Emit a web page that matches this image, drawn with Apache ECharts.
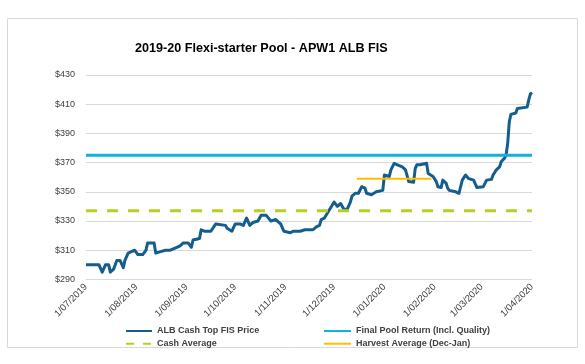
<!DOCTYPE html>
<html>
<head>
<meta charset="utf-8">
<script src="https://cdn.jsdelivr.net/npm/echarts@6/dist/echarts.min.js"></script>
<style>html,body{margin:0;padding:0;background:#fff;}#c{width:585px;height:364px;}</style>
</head>
<body>
<div id="c"></div>
<script>
const tickLabels = ['1/07/2019','1/08/2019','1/09/2019','1/10/2019','1/11/2019','1/12/2019','1/01/2020','1/02/2020','1/03/2020','1/04/2020'];
const priceDates = ['2019-07-01','2019-07-09','2019-07-11','2019-07-13','2019-07-15','2019-07-16','2019-07-18','2019-07-20','2019-07-22','2019-07-24','2019-07-25','2019-07-27','2019-07-29','2019-07-31',
'2019-08-02','2019-08-05','2019-08-07','2019-08-08','2019-08-12','2019-08-13','2019-08-16','2019-08-19','2019-08-20','2019-08-22','2019-08-26','2019-08-28','2019-08-30',
'2019-09-02','2019-09-04','2019-09-05','2019-09-09','2019-09-10','2019-09-12','2019-09-16','2019-09-19','2019-09-25','2019-09-26','2019-09-29',
'2019-10-01','2019-10-04','2019-10-06','2019-10-08','2019-10-10','2019-10-12','2019-10-15','2019-10-17','2019-10-20','2019-10-23','2019-10-26','2019-10-29','2019-10-31',
'2019-11-04','2019-11-05','2019-11-06','2019-11-10','2019-11-13','2019-11-18','2019-11-20','2019-11-22','2019-11-23','2019-11-25','2019-11-28',
'2019-12-01','2019-12-03','2019-12-05','2019-12-07','2019-12-09','2019-12-11','2019-12-12','2019-12-14','2019-12-16','2019-12-18','2019-12-20','2019-12-21','2019-12-24','2019-12-27','2019-12-31',
'2020-01-01','2020-01-04','2020-01-05','2020-01-07','2020-01-09','2020-01-10','2020-01-12','2020-01-14','2020-01-15','2020-01-16','2020-01-19','2020-01-20','2020-01-21','2020-01-23','2020-01-27','2020-01-28','2020-01-29','2020-01-31',
'2020-02-02','2020-02-03','2020-02-05','2020-02-06','2020-02-08','2020-02-09','2020-02-10','2020-02-14','2020-02-16','2020-02-18','2020-02-20','2020-02-22','2020-02-25','2020-02-27',
'2020-03-02','2020-03-04','2020-03-07','2020-03-08','2020-03-10','2020-03-12','2020-03-13','2020-03-15','2020-03-16','2020-03-17','2020-03-18','2020-03-19','2020-03-20','2020-03-22','2020-03-23','2020-03-24','2020-03-29','2020-03-30','2020-03-31','2020-04-01'];
const priceValues = [300,300,295,300,300,295,297,303,303,298,303,308,309,310,
307,307,310,315,315,308,309,310,311,310,312,313,315,
315,312,317,318,324,323,323,328,327,325,323,
328,328,327,332,327,329,330,334,334,330,331,328,323,
322,321,323,323,324,324,326,327,331,332,337.5,
343,340,342,338,338,343,347,349,349,353.5,352.5,349,348,350,351,
361.5,360.5,365,369.5,368.5,369.5,367,365,364,357,356.5,366,368.5,368.5,369.5,362.5,361.5,360.5,
357,353.5,353,358,356,352.5,351,350,349,358,361.5,359,358,353,
353.5,358,358.5,361.5,365,367,370.5,373,375,383,398,403,404,404,407,408,408,413,417,418];
const axisStart = '2019-07-01';
const axisEnd = '2020-04-01';
const finalPoolReturn = 375;
const cashAverage = 337;
const harvestAverage = 359;
const harvestStart = '2019-12-15';
const harvestEnd = '2020-01-30';
const seriesNames = ['ALB Cash Top FIS Price','Final Pool Return (Incl. Quality)','Cash Average','Harvest Average (Dec-Jan)'];

function ts(s){ const p = s.split('-').map(Number); return new Date(p[0], p[1]-1, p[2]).getTime(); }
function tsLabel(s){ const p = s.split('/').map(Number); return new Date(p[2], p[1]-1, p[0]).getTime(); }
const tickValues = tickLabels.map(tsLabel);
function fmt(v){ let best = 0; for (let i = 1; i < tickValues.length; i++) { if (Math.abs(tickValues[i]-v) < Math.abs(tickValues[best]-v)) best = i; } return tickLabels[best]; }

const chart = echarts.init(document.getElementById('c'), null, {renderer:'canvas'});
const txt = '#404040';
const legendText = {fontFamily:'Liberation Sans', fontSize:9, fontWeight:'bold', color:txt, lineHeight:10};
chart.setOption({
  animation: false,
  backgroundColor: '#fff',
  graphic: [{type:'rect', shape:{x:7.5,y:18.5,width:570,height:329}, style:{fill:'none', stroke:'#d9d9d9', lineWidth:1}, silent:true, z:-1}],
  title: {text:'2019-20 Flexi-starter Pool - APW1 ALB FIS', left:130, top:37, textStyle:{fontFamily:'Liberation Sans', fontSize:12.6, fontWeight:'bold', color:'#000'}},
  grid: {left:86, right:53, top:75, bottom:84.6, containLabel:false},
  xAxis: {type:'value', min:ts(axisStart), max:ts(axisEnd), scale:true,
    axisLine:{show:false}, axisTick:{show:false}, splitLine:{show:false},
    axisLabel:{customValues: tickValues, rotate:45, margin:6, formatter: fmt, fontFamily:'Liberation Sans', fontSize:9.5, color:txt, hideOverlap:false, showMinLabel:true, showMaxLabel:true}},
  yAxis: {type:'value', min:290, max:430, interval:20,
    axisLine:{show:false}, axisTick:{show:false},
    splitLine:{lineStyle:{color:'#d9d9d9', width:1}},
    axisLabel:{formatter:'${value}', margin:11, fontFamily:'Liberation Sans', fontSize:9, color:txt}},
  legend: [
    {data:[seriesNames[0], {name:seriesNames[2], lineStyle:{type:[8,9]}}], orient:'vertical', left:120, top:321, itemWidth:26, itemHeight:10, itemGap:2.7,
     itemStyle:{opacity:0}, textStyle:legendText},
    {data:[seriesNames[1], seriesNames[3]], orient:'vertical', left:318, top:321, itemWidth:27, itemHeight:10, itemGap:2.7,
     itemStyle:{opacity:0}, textStyle:legendText}
  ],
  series: [
    {name:seriesNames[0], type:'line', symbol:'none', data: priceDates.map((d,i)=>[ts(d), priceValues[i]]),
     lineStyle:{color:'#145d8d', width:3, join:'round'}, itemStyle:{color:'#145d8d'}},
    {name:seriesNames[1], type:'line', symbol:'none', data:[[ts(axisStart), finalPoolReturn],[ts(axisEnd), finalPoolReturn]],
     lineStyle:{color:'#13b1dd', width:3}, itemStyle:{color:'#13b1dd'}},
    {name:seriesNames[2], type:'line', symbol:'none', data:[[ts(axisStart), cashAverage],[ts(axisEnd), cashAverage]],
     lineStyle:{color:'#bace22', width:3, type:[11,10]}, itemStyle:{color:'#bace22'}},
    {name:seriesNames[3], type:'line', symbol:'none', data:[[ts(harvestStart), harvestAverage],[ts(harvestEnd), harvestAverage]],
     lineStyle:{color:'#ffbf00', width:2}, itemStyle:{color:'#ffbf00'}}
  ]
});
</script>
</body>
</html>
